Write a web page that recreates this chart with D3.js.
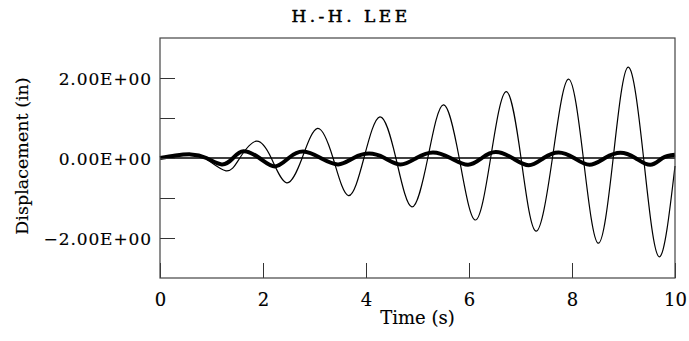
<!DOCTYPE html>
<html>
<head>
<meta charset="utf-8">
<script src="https://cdn.jsdelivr.net/npm/d3@7"></script>
<style>
  body { margin: 0; background: #fff; }
  text { font-family: "DejaVu Serif", serif; fill: #000; stroke: #000; stroke-width: 0.15px; }
</style>
</head>
<body>
<svg id="chart" width="689" height="341"></svg>
<script>
// values (extrema and zero crossings)
var thinTime = [0, 0.3, 0.58, 0.87, 1.28, 1.55, 1.87, 2.16, 2.46, 2.76, 3.06, 3.36, 3.66, 3.96, 4.27, 4.58, 4.89, 5.2, 5.5, 5.81, 6.12, 6.42, 6.72, 7.01, 7.30, 7.62, 7.93, 8.22, 8.51, 8.80, 9.09, 9.39, 9.69, 10];
var thinDisp = [0, 0.06, 0.09, 0.0, -0.32, 0, 0.42, 0, -0.62, 0, 0.74, 0, -0.94, 0, 1.03, 0, -1.22, 0, 1.33, 0, -1.55, 0, 1.66, 0, -1.83, 0, 1.97, 0, -2.13, 0, 2.27, 0, -2.47, -0.2];

var thickTime = [0, 0.3, 0.6, 0.9, 1.2, 1.42, 1.62, 1.93, 2.23, 2.5, 2.78, 3.12, 3.46, 3.76, 4.06, 4.36, 4.67, 4.98, 5.30, 5.64, 5.98, 6.25, 6.52, 6.84, 7.16, 7.45, 7.74, 8.04, 8.34, 8.64, 8.94, 9.23, 9.52, 9.76, 10];
var thickDisp = [0, 0.06, 0.09, 0, -0.16, 0, 0.17, 0, -0.21, 0, 0.16, 0, -0.16, 0, 0.11, 0, -0.16, 0, 0.14, 0, -0.17, 0, 0.15, 0, -0.18, 0, 0.14, 0, -0.17, 0, 0.13, 0, -0.17, 0, 0.08];

var xTicks = [0, 2, 4, 6, 8, 10];
var yTicks = [-2, -1, 0, 1, 2];
var yTickLabels = {"-2": "\u22122.00E+00", "0": "0.00E+00", "2": "2.00E+00"};

var svg = d3.select("#chart"),
    margin = {top: 38, right: 14, bottom: 63, left: 160},
    width  = +svg.attr("width")  - margin.left - margin.right,
    height = +svg.attr("height") - margin.top  - margin.bottom,
    xScale = d3.scaleLinear().domain([0, 10]).range([0, width]),
    yScale = d3.scaleLinear().domain([-3, 3]).range([height, 0]),
    g = svg.append("g")
        .attr("transform", `translate(${margin.left},${margin.top})`);

function toPoints(ts, vs) {
    return ts.map((t, i) => [t, vs[i]]);
}

var line = d3.line()
    .x(d => xScale(d[0]))
    .y(d => yScale(d[1]))
    .curve(d3.curveNatural);

// zero line
g.append("line")
    .attr("x1", 0).attr("x2", width)
    .attr("y1", yScale(0)).attr("y2", yScale(0))
    .attr("stroke", "#000").attr("stroke-width", 1.3);

g.append("path")
    .datum(toPoints(thinTime, thinDisp))
    .attr("fill", "none")
    .attr("stroke", "#000")
    .attr("stroke-width", 1.2)
    .attr("d", line);

g.append("path")
    .datum(toPoints(thickTime, thickDisp))
    .attr("fill", "none")
    .attr("stroke", "#000")
    .attr("stroke-width", 4)
    .attr("stroke-linejoin", "round")
    .attr("d", line);

// axes, ticks pointing inward
var xAxis = g.append("g")
    .attr("transform", `translate(0,${height})`)
    .call(d3.axisBottom(xScale)
        .tickValues(xTicks)
        .tickSizeInner(-15)
        .tickSizeOuter(0)
        .tickPadding(15)
        .tickFormat(d3.format("d")));

var yAxis = g.append("g")
    .call(d3.axisLeft(yScale)
        .tickValues(yTicks)
        .tickSizeInner(-15)
        .tickSizeOuter(0)
        .tickPadding(8)
        .tickFormat(d => yTickLabels[d] || ""));

[xAxis, yAxis].forEach(a => {
    a.select(".domain").remove();
    a.selectAll(".tick line").attr("stroke", "#333");
    a.selectAll("text").style("font-family", "DejaVu Serif");
});
xAxis.selectAll("text").style("font-size", "18px");
yAxis.selectAll("text").style("font-size", "17px").style("letter-spacing", "0.9px").attr("dy", "0.37em");

// frame
g.append("rect")
    .attr("width", width).attr("height", height)
    .attr("fill", "none")
    .attr("stroke", "#444").attr("stroke-width", 1.2);

svg.append("text")
    .attr("x", 351).attr("y", 22)
    .attr("text-anchor", "middle")
    .attr("font-size", "17px")
    .style("stroke-width", "0.5px")
    .style("letter-spacing", "3.5px")
    .text("H.-H. LEE");

svg.append("text")
    .attr("x", margin.left + width / 2).attr("y", 324)
    .attr("text-anchor", "middle")
    .attr("font-size", "18px")
    .text("Time (s)");

svg.append("text")
    .attr("transform", `translate(28,${margin.top + height / 2 - 2}) rotate(-90)`)
    .attr("text-anchor", "middle")
    .attr("font-size", "17.5px")
    .text("Displacement (in)");
</script>
</body>
</html>
